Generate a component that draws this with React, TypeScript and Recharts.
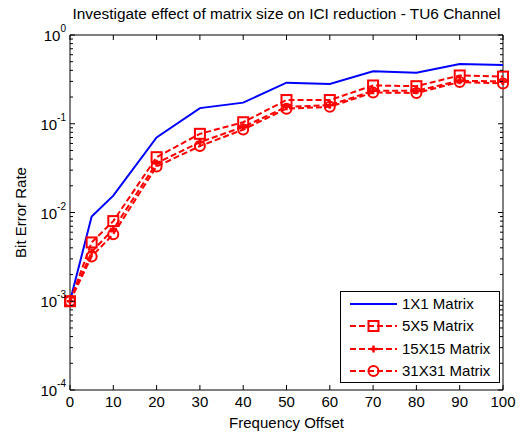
import React from 'react';
import { Line, LineChart, ReferenceLine, XAxis, YAxis } from 'recharts';

const offsets = [0, 5, 10, 20, 30, 40, 50, 60, 70, 80, 90, 100];
const ber1x1 = [1e-3, 0.009, 0.0155, 0.07, 0.15, 0.173, 0.29, 0.28, 0.39, 0.376, 0.47, 0.458];
const ber5x5 = [1e-3, 0.0046, 0.008, 0.042, 0.077, 0.104, 0.185, 0.185, 0.27, 0.265, 0.35, 0.34];
const ber15x15 = [1e-3, 0.0036, 0.0065, 0.036, 0.062, 0.092, 0.155, 0.162, 0.235, 0.235, 0.305, 0.3];
const ber31x31 = [1e-3, 0.0032, 0.0057, 0.033, 0.056, 0.086, 0.148, 0.155, 0.225, 0.222, 0.295, 0.285];

const xTicks = [0, 10, 20, 30, 40, 50, 60, 70, 80, 90, 100];
const yMajor = [1e-4, 1e-3, 1e-2, 1e-1, 1];
const yMinorSteps = [2, 3, 4, 5, 6, 7, 8, 9];
const yTicks = yMajor.flatMap((d, i) =>
  i < yMajor.length - 1 ? [d, ...yMinorSteps.map((m) => m * d)] : [d]
);

const data = offsets.map((x, i) => ({
  x,
  m1: ber1x1[i],
  m5: ber5x5[i],
  m15: ber15x15[i],
  m31: ber31x31[i],
}));

const FONT = '"Liberation Sans", Arial, sans-serif';
const FS = 15;
const W = 526;
const H = 432;
const LEFT = 70;
const RIGHT = 503;
const TOP = 35;
const BOTTOM = 390;

const RED = '#ff0000';
const BLUE = '#0000ff';

type Marker = 'none' | 'square' | 'plus' | 'circle';

function drawMarker(kind: Marker, cx: number, cy: number, key?: string) {
  if (kind === 'square')
    return <rect key={key} x={cx - 5} y={cy - 5} width={10} height={10} fill="none" stroke={RED} strokeWidth={2} />;
  if (kind === 'circle')
    return <circle key={key} cx={cx} cy={cy} r={5} fill="none" stroke={RED} strokeWidth={2} />;
  if (kind === 'plus')
    return (
      <g key={key} stroke={RED} strokeWidth={2.5}>
        <line x1={cx - 3.5} y1={cy} x2={cx + 3.5} y2={cy} />
        <line x1={cx} y1={cy - 3.5} x2={cx} y2={cy + 3.5} />
      </g>
    );
  return <g key={key} />;
}

const series: { key: string; name: string; color: string; dash?: string; marker: Marker }[] = [
  { key: 'm1', name: '1X1 Matrix', color: BLUE, marker: 'none' },
  { key: 'm5', name: '5X5 Matrix', color: RED, dash: '6 3', marker: 'square' },
  { key: 'm15', name: '15X15 Matrix', color: RED, dash: '6 3', marker: 'plus' },
  { key: 'm31', name: '31X31 Matrix', color: RED, dash: '6 3', marker: 'circle' },
];

function XTick(props: any) {
  const { x, payload } = props;
  return (
    <g>
      <line x1={x} y1={BOTTOM} x2={x} y2={BOTTOM - 5} stroke="#000" />
      <line x1={x} y1={TOP} x2={x} y2={TOP + 5} stroke="#000" />
      <text x={x} y={BOTTOM + 11} textAnchor="middle" dominantBaseline="central" fontSize={FS} fontFamily={FONT} fill="#000">
        {payload.value}
      </text>
    </g>
  );
}

function YTick(props: any) {
  const { y, payload } = props;
  const v = payload.value as number;
  const exp = Math.log10(v);
  const major = Math.abs(exp - Math.round(exp)) < 1e-6;
  const len = major ? 5 : 3;
  return (
    <g>
      <line x1={LEFT} y1={y} x2={LEFT + len} y2={y} stroke="#000" />
      <line x1={RIGHT} y1={y} x2={RIGHT - len} y2={y} stroke="#000" />
      {major && (
        <text x={LEFT - 4} y={y} textAnchor="end" dominantBaseline="central" fontSize={FS} fontFamily={FONT} fill="#000">
          <tspan>10</tspan>
          <tspan dy={-7} fontSize={10}>
            {Math.round(exp)}
          </tspan>
        </text>
      )}
    </g>
  );
}

function LegendBox() {
  return (
    <div
      style={{
        position: 'absolute',
        left: 340,
        top: 291,
        width: 160,
        height: 92,
        border: '1px solid #000',
        background: '#fff',
        boxSizing: 'border-box',
        fontFamily: FONT,
        fontSize: FS,
      }}
    >
      {series.map((s, i) => (
        <div key={s.key} style={{ position: 'absolute', left: 0, top: 1 + i * 22.3, height: 22, width: 158 }}>
          <svg width={60} height={22} style={{ position: 'absolute', left: 8, top: 0 }}>
            <line x1={1} y1={11} x2={48} y2={11} stroke={s.color} strokeWidth={2} strokeDasharray={s.dash} />
            {drawMarker(s.marker, 24.5, 11)}
          </svg>
          <span style={{ position: 'absolute', left: 61, top: 2, lineHeight: '18px', whiteSpace: 'nowrap' }}>{s.name}</span>
        </div>
      ))}
    </div>
  );
}

export default function App() {
  return (
    <div style={{ position: 'fixed', left: 0, top: 0, width: W, height: H, background: '#fff' }}>
      <div
        style={{
          position: 'absolute',
          left: LEFT,
          width: RIGHT - LEFT,
          top: 5,
          textAlign: 'center',
          fontFamily: FONT,
          fontSize: 15.4,
          lineHeight: '18px',
          color: '#000',
          whiteSpace: 'nowrap',
        }}
      >
        Investigate effect of matrix size on ICI reduction - TU6 Channel
      </div>
      <LineChart width={W} height={H} data={data} margin={{ top: TOP, right: W - RIGHT, bottom: 0, left: 0 }}>
        <XAxis
          dataKey="x"
          type="number"
          domain={[0, 100]}
          ticks={xTicks}
          interval={0}
          height={H - BOTTOM}
          tickLine={false}
          tick={<XTick />}
          axisLine={{ stroke: '#000' }}
          label={{ value: 'Frequency Offset', position: 'insideBottom', offset: 4, fontSize: FS, fontFamily: FONT, fill: '#000' }}
        />
        <YAxis
          scale="log"
          domain={[1e-4, 1]}
          allowDataOverflow
          ticks={yTicks}
          interval={0}
          width={LEFT}
          tickLine={false}
          tick={<YTick />}
          axisLine={{ stroke: '#000' }}
          label={{
            value: 'Bit Error Rate',
            angle: -90,
            position: 'insideLeft',
            offset: 21,
            fontSize: FS,
            fontFamily: FONT,
            fill: '#000',
            style: { textAnchor: 'middle' },
          }}
        />
        <ReferenceLine y={1} stroke="#000" />
        <ReferenceLine x={100} stroke="#000" />
        {series.map((s) => (
          <Line
            key={s.key}
            dataKey={s.key}
            name={s.name}
            type="linear"
            stroke={s.color}
            strokeWidth={2}
            strokeDasharray={s.dash}
            dot={s.marker === 'none' ? false : (p: any) => drawMarker(s.marker, p.cx, p.cy, `${s.key}-${p.index}`)}
            activeDot={false}
            isAnimationActive={false}
          />
        ))}
      </LineChart>
      <LegendBox />
    </div>
  );
}
